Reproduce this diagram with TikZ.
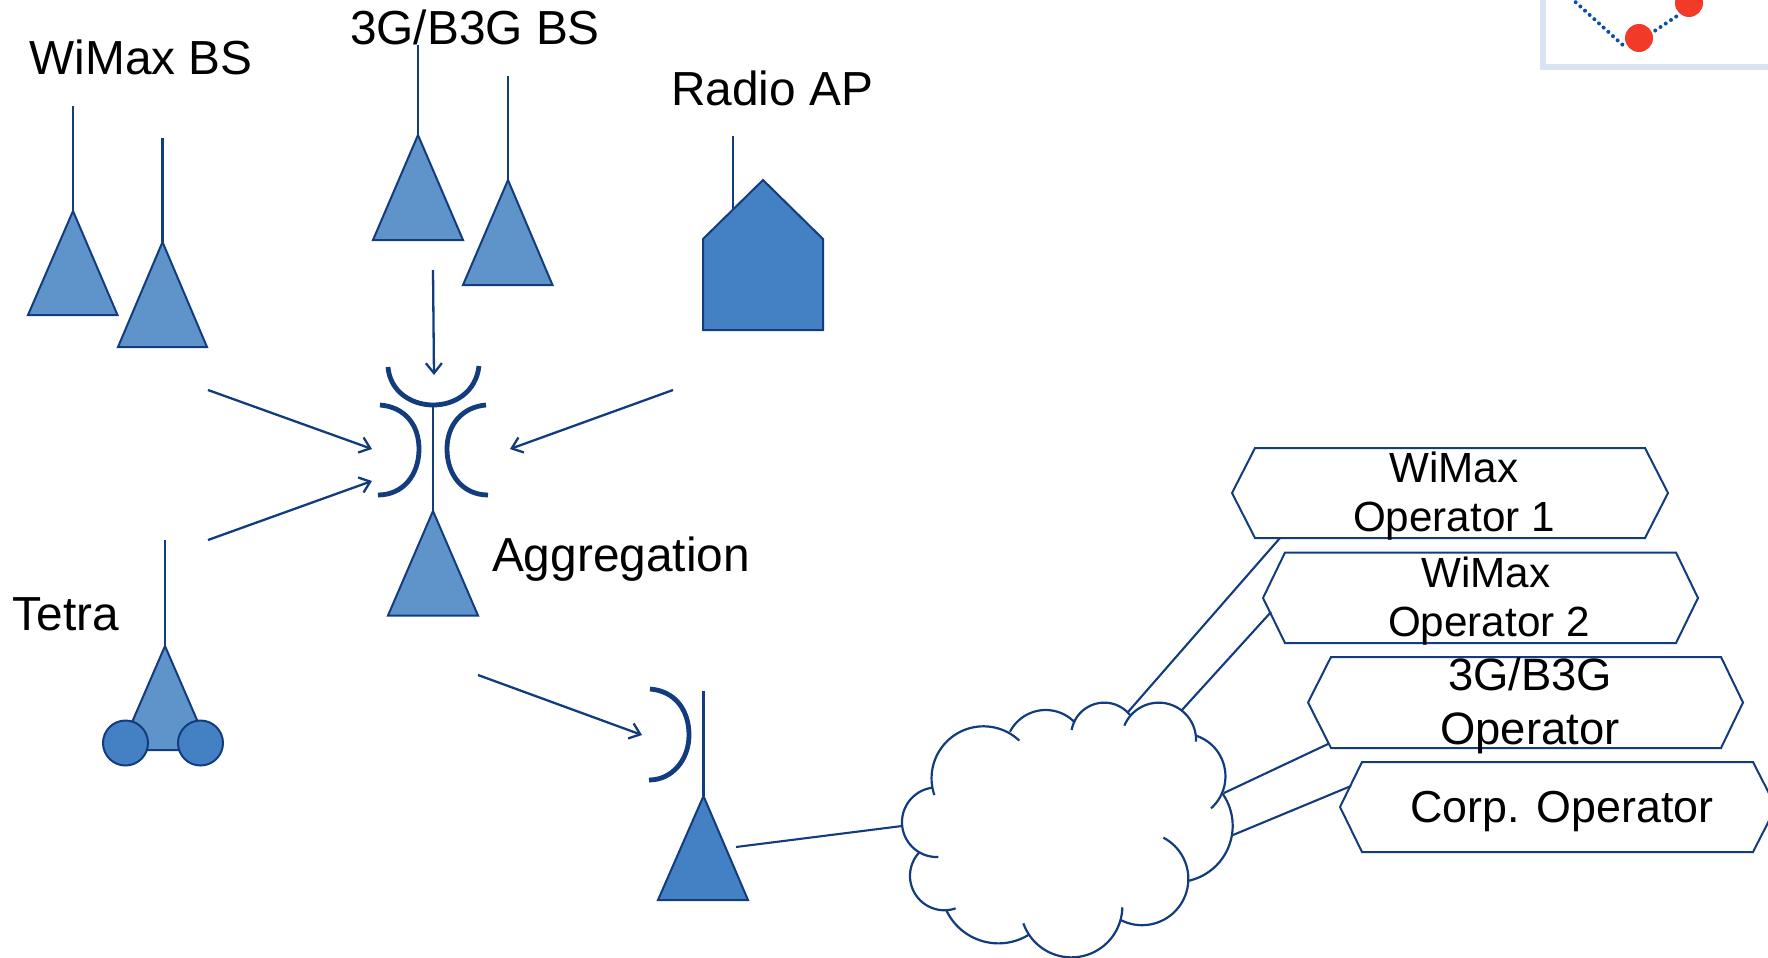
\documentclass[tikz,border=0pt]{standalone}
\usepackage{fontspec}
\setmainfont{Liberation Sans}
\usetikzlibrary{arrows.meta}
\definecolor{navy}{HTML}{123C7E}
\definecolor{midblue}{HTML}{5F94CB}
\definecolor{deepblue}{HTML}{4380C4}
\definecolor{framecol}{HTML}{D9E3F1}
\definecolor{dotblue}{HTML}{0B50A8}
\definecolor{reddot}{HTML}{F23A28}
\tikzset{
  conn/.style={draw=navy,line width=1.05pt},
  arr/.style={draw=navy,line width=1.15pt,-{Straight Barb[length=5pt,width=8pt,line width=1.15pt]}},
  dish/.style={draw=navy,line width=2.4pt},
  tri/.style={draw=navy,line width=1pt,fill=midblue,line join=miter},
  tridark/.style={tri,fill=deepblue},
  hex/.style={draw=navy,line width=1pt},
  cloudarc/.style={draw=navy,line width=1.1pt},
  lab/.style={inner sep=0pt,anchor=base,font=\fontsize{23.9}{28}\selectfont,text=black},
  oplabA/.style={inner sep=0pt,align=center,font=\fontsize{21.1}{24.2}\selectfont,text=black},
  oplabB/.style={inner sep=0pt,align=center,font=\fontsize{22.7}{27}\selectfont,text=black},
  oplabC/.style={inner sep=0pt,align=center,font=\fontsize{22.4}{27}\selectfont,text=black}
}
% circular arc through three points, start - middle - end
\newcommand{\cloudseg}[6]{%
  \pgfmathsetmacro{\ax}{#1/100}\pgfmathsetmacro{\ay}{#2/100}%
  \pgfmathsetmacro{\bx}{#3/100}\pgfmathsetmacro{\by}{#4/100}%
  \pgfmathsetmacro{\cx}{#5/100}\pgfmathsetmacro{\cy}{#6/100}%
  \pgfmathsetmacro{\dd}{2*(\ax*(\by-\cy)+\bx*(\cy-\ay)+\cx*(\ay-\by))}%
  \pgfmathsetmacro{\sa}{\ax*\ax+\ay*\ay}\pgfmathsetmacro{\sb}{\bx*\bx+\by*\by}\pgfmathsetmacro{\sc}{\cx*\cx+\cy*\cy}%
  \pgfmathsetmacro{\ox}{(\sa*(\by-\cy)+\sb*(\cy-\ay)+\sc*(\ay-\by))/\dd}%
  \pgfmathsetmacro{\oy}{(\sa*(\cx-\bx)+\sb*(\ax-\cx)+\sc*(\bx-\ax))/\dd}%
  \pgfmathsetmacro{\rr}{100*sqrt((\ax-\ox)*(\ax-\ox)+(\ay-\oy)*(\ay-\oy))}%
  \pgfmathsetmacro{\aone}{atan2(\ay-\oy,\ax-\ox)}%
  \pgfmathsetmacro{\atwo}{atan2(\by-\oy,\bx-\ox)}%
  \pgfmathsetmacro{\athr}{atan2(\cy-\oy,\cx-\ox)}%
  \pgfmathsetmacro{\dtwo}{mod(\atwo-\aone+720,360)}%
  \pgfmathsetmacro{\dthr}{mod(\athr-\aone+720,360)}%
  \pgfmathsetmacro{\aend}{\dtwo<\dthr ? \aone+\dthr : \aone+\dthr-360}%
  \draw[cloudarc] plot[domain=\aone:\aend,samples=40,smooth] ({100*\ox+\rr*cos(\x)},{100*\oy+\rr*sin(\x)});%
}
\begin{document}
\begin{tikzpicture}[x=.5pt,y=-.5pt]
\clip (0,0) rectangle (1768,958);
% inset corner
\draw[framecol,line width=3pt] (1543,-10) -- (1543,67) -- (1768,67);
\draw[dotblue,line width=2pt,line cap=round,dash pattern=on 0pt off 3.15pt] (1571,-2) -- (1625,47);
\draw[dotblue,line width=2pt,line cap=round,dash pattern=on 0pt off 3.15pt] (1650,34) -- (1680,14);
\fill[reddot] (1639,38) circle (14);
\fill[reddot] (1689,3) circle (14);
% labels
\node[lab] (wimaxbs) at (141,75) {WiMax BS};
\node[lab] (g3bs) at (475,45) {3G/B3G BS};
\node[lab] (radioap) at (772,105.5) {Radio AP};
\node[lab] (aggr) at (621,571) {Aggregation};
\node[lab] (tetra) at (66,630) {Tetra};
% WiMax BS
\coordinate (w1top) at (73,106); \coordinate (w1) at (73,211);
\coordinate (w2top) at (162.5,138); \coordinate (w2) at (162.5,242);
\draw[conn] (w1top) -- (w1);
\draw[conn] (w2top) -- (w2);
\draw[tri] (w1) -- (28,315) -- (117.5,315) -- cycle;
\draw[tri] (w2) -- (118,347) -- (207,347) -- cycle;
% 3G BS
\coordinate (g1top) at (418,45); \coordinate (g1) at (418,135);
\coordinate (g2top) at (508,76); \coordinate (g2) at (508,180);
\draw[conn] (g1top) -- (g1);
\draw[conn] (g2top) -- (g2);
\draw[tri] (g1) -- (373,240) -- (463,240) -- cycle;
\draw[tri] (g2) -- (463,285) -- (552.5,285) -- cycle;
% Radio AP
\coordinate (aptop) at (733,136); \coordinate (apfoot) at (733,209);
\draw[conn] (aptop) -- (apfoot);
\draw[tridark] (763,180) -- (823,239) -- (823,330) -- (703,330) -- (703,239) -- cycle;
% Aggregation
\coordinate (agdish) at (433,405); \coordinate (agapex) at (433,511);
\draw[conn] (agdish) -- (agapex);
\draw[tri] (agapex) -- (388,615.5) -- (478,615.5) -- cycle;
\draw[dish] (388,367) .. controls (390,392) and (412,405) .. (433,405) .. controls (455,405) and (476,392) .. (479,366);
\draw[dish] (380,405) .. controls (405,407) and (419,425) .. (419,449) .. controls (419,475) and (403,495) .. (378,495);
\draw[dish] (486,405) .. controls (462,407) and (447,425) .. (447,449) .. controls (447,475) and (463,495) .. (488,495);
% Tetra
\coordinate (ttop) at (165,540); \coordinate (tapex) at (165,646);
\draw[conn] (ttop) -- (tapex);
\draw[tri] (tapex) -- (120,750) -- (210,750) -- cycle;
\draw[tridark] (125.5,743) circle (22.5);
\draw[tridark] (200.5,743) circle (22.5);
% arrows
\coordinate (a1s) at (208,390); \coordinate (a1e) at (372,449);
\coordinate (a2s) at (208,540); \coordinate (a2e) at (372,481);
\coordinate (a3s) at (673,390); \coordinate (a3e) at (510,449);
\coordinate (a4s) at (433,270); \coordinate (a4e) at (434,375);
\coordinate (a5s) at (478,675); \coordinate (a5e) at (642,735);
\draw[arr] (a1s) -- (a1e);
\draw[arr] (a2s) -- (a2e);
\draw[arr] (a3s) -- (a3e);
\draw[arr] (a4s) -- (a4e);
\draw[arr] (a5s) -- (a5e);
% Gateway antenna
\coordinate (gwdish) at (703.5,691); \coordinate (gwapex) at (703.5,796);
\draw[conn] (gwdish) -- (gwapex);
\draw[tridark] (gwapex) -- (658,900) -- (748,900) -- cycle;
\draw[dish] (650,689) .. controls (675,691) and (689,710) .. (689,735) .. controls (689,760) and (672,780) .. (649,780);
% Connectors to cloud
\coordinate (gwout) at (736,847); \coordinate (clL) at (902,826);
\coordinate (op1c) at (1280,538); \coordinate (cl1) at (1128,712);
\coordinate (op2c) at (1271,612); \coordinate (cl2) at (1182,710);
\coordinate (op3c) at (1328,744); \coordinate (cl3) at (1224,793);
\coordinate (op4c) at (1351,786); \coordinate (cl4) at (1233,835);
\draw[conn] (gwout) -- (clL);
\draw[conn] (op1c) -- (cl1);
\draw[conn] (op2c) -- (cl2);
\draw[conn] (op3c) -- (cl3);
\draw[conn] (op4c) -- (cl4);
% Cloud
\begin{scope}[shift={(880,680)},x=.16667pt,y=-.16667pt]
\cloudseg{163}{345}{205}{180}{418}{182}
\cloudseg{390}{155}{495}{90}{582}{125}
\cloudseg{575}{150}{670}{68}{750}{105}
\cloudseg{733}{137}{835}{68}{948}{185}
\cloudseg{948}{167}{1036}{280}{993}{385}
\cloudseg{1027}{340}{1058}{440}{927}{602}
\cloudseg{850}{473}{925}{600}{722}{720}
\cloudseg{727}{682}{580}{832}{430}{730}
\cloudseg{445}{765}{350}{790}{200}{693}
\cloudseg{227}{685}{90}{590}{117}{518}
\cloudseg{175}{531}{66}{430}{157}{323}
\end{scope}
% Operators
\draw[hex] (1232,493) -- (1255,448) -- (1645,448) -- (1668,493) -- (1645,538) -- (1255,538) -- cycle;
\draw[hex] (1263,598) -- (1285,552.5) -- (1676,552.5) -- (1698,598) -- (1676,643) -- (1285,643) -- cycle;
\draw[hex] (1308,702.5) -- (1331,657) -- (1721,657) -- (1743,702.5) -- (1721,748) -- (1331,748) -- cycle;
\draw[hex] (1340,807) -- (1362,762) -- (1753,762) -- (1776,807) -- (1753,852) -- (1362,852) -- cycle;
\node[oplabA] (op1) at (1454,496) {WiMax\\Operator 1};
\node[oplabA] (op2) at (1486,601) {WiMax\\\hspace*{3pt}Operator 2};
\node[oplabB] (op3) at (1530,705.5) {3G/B3G\\Operator};
\node[oplabC] (op4) at (1562,811) {Corp. Operator};
\end{tikzpicture}
\end{document}
